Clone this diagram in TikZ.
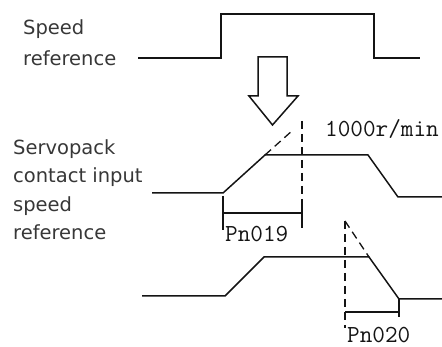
\documentclass[tikz,border=0pt]{standalone}
\usepackage{fontspec}
\setmainfont{DejaVu Sans}
\usetikzlibrary{positioning}
\definecolor{ink}{RGB}{20,20,20}
\tikzset{
  wave/.style={draw=ink,line width=1.5pt,line join=miter},
  guide/.style={draw=ink,line width=1.3pt,dash pattern=on 8pt off 5pt},
  tag/.style={font=\fontsize{19.5}{28.5}\selectfont,text=ink!85,align=left,inner sep=0pt},
  param/.style={font=\ttfamily\fontsize{24.5}{26}\selectfont,text=ink,inner sep=0pt},
  hollow/.style={draw=ink,line width=1.5pt,fill=white,line join=miter},
}
\begin{document}
\begin{tikzpicture}[x=1pt,y=-1pt]
  \useasboundingbox (0,0) rectangle (442,347);
  % labels (base = last line)
  \node[tag,anchor=base west,font=\fontsize{19.5}{31}\selectfont] (spdref) at (23,66) {Speed\\reference};
  \node[tag,anchor=base west] (cntref) at (13,240) {Servopack\\contact input\\speed\\reference};
  % speed reference pulse
  \draw[wave] (138,58) -- (221,58) -- (221,14) -- (374,14) -- (374,58) -- (420,58);
  % hollow arrow
  \draw[hollow] (258,57) -- (287,57) -- (287,96) -- (298,96) -- (272.5,125)
    -- (249,96) -- (258,96) -- cycle;
  % contact input with soft start
  \coordinate (a1) at (223,193);
  \coordinate (a2) at (265,155);
  \draw[wave] (152,193) -- (a1) -- (a2) -- (368,155) -- (398,197) -- (442,197);
  \draw[guide] (a2) -- (293,130);
  \draw[guide] (302,121) -- (302,228);
  \coordinate (b1) at (223,213);
  \coordinate (b2) at (302,213);
  \draw[wave,line width=1.3pt] (223,196) -- (223,230) (b1) -- (b2) (302,205) -- (302,227);
  \node[param,anchor=base west] (pn19) at (225,242) {Pn019};
  \node[param,anchor=west] (speed) at (325,129.5) {1000r/min};
  % contact input with soft stop
  \coordinate (c1) at (369,257);
  \coordinate (c2) at (399,299);
  \draw[wave] (142,296) -- (225,296) -- (264,257) -- (c1) -- (c2) -- (442,299);
  \draw[guide] (345,221) -- (c1);
  \draw[guide] (345,221) -- (345,328);
  \coordinate (d1) at (345,312);
  \coordinate (d2) at (399,312);
  \draw[wave,line width=1.3pt] (d1) -- (d2) (c2) -- (399,317);
  \node[param,anchor=base west] (pn20) at (347,343) {Pn020};
\end{tikzpicture}
\end{document}
